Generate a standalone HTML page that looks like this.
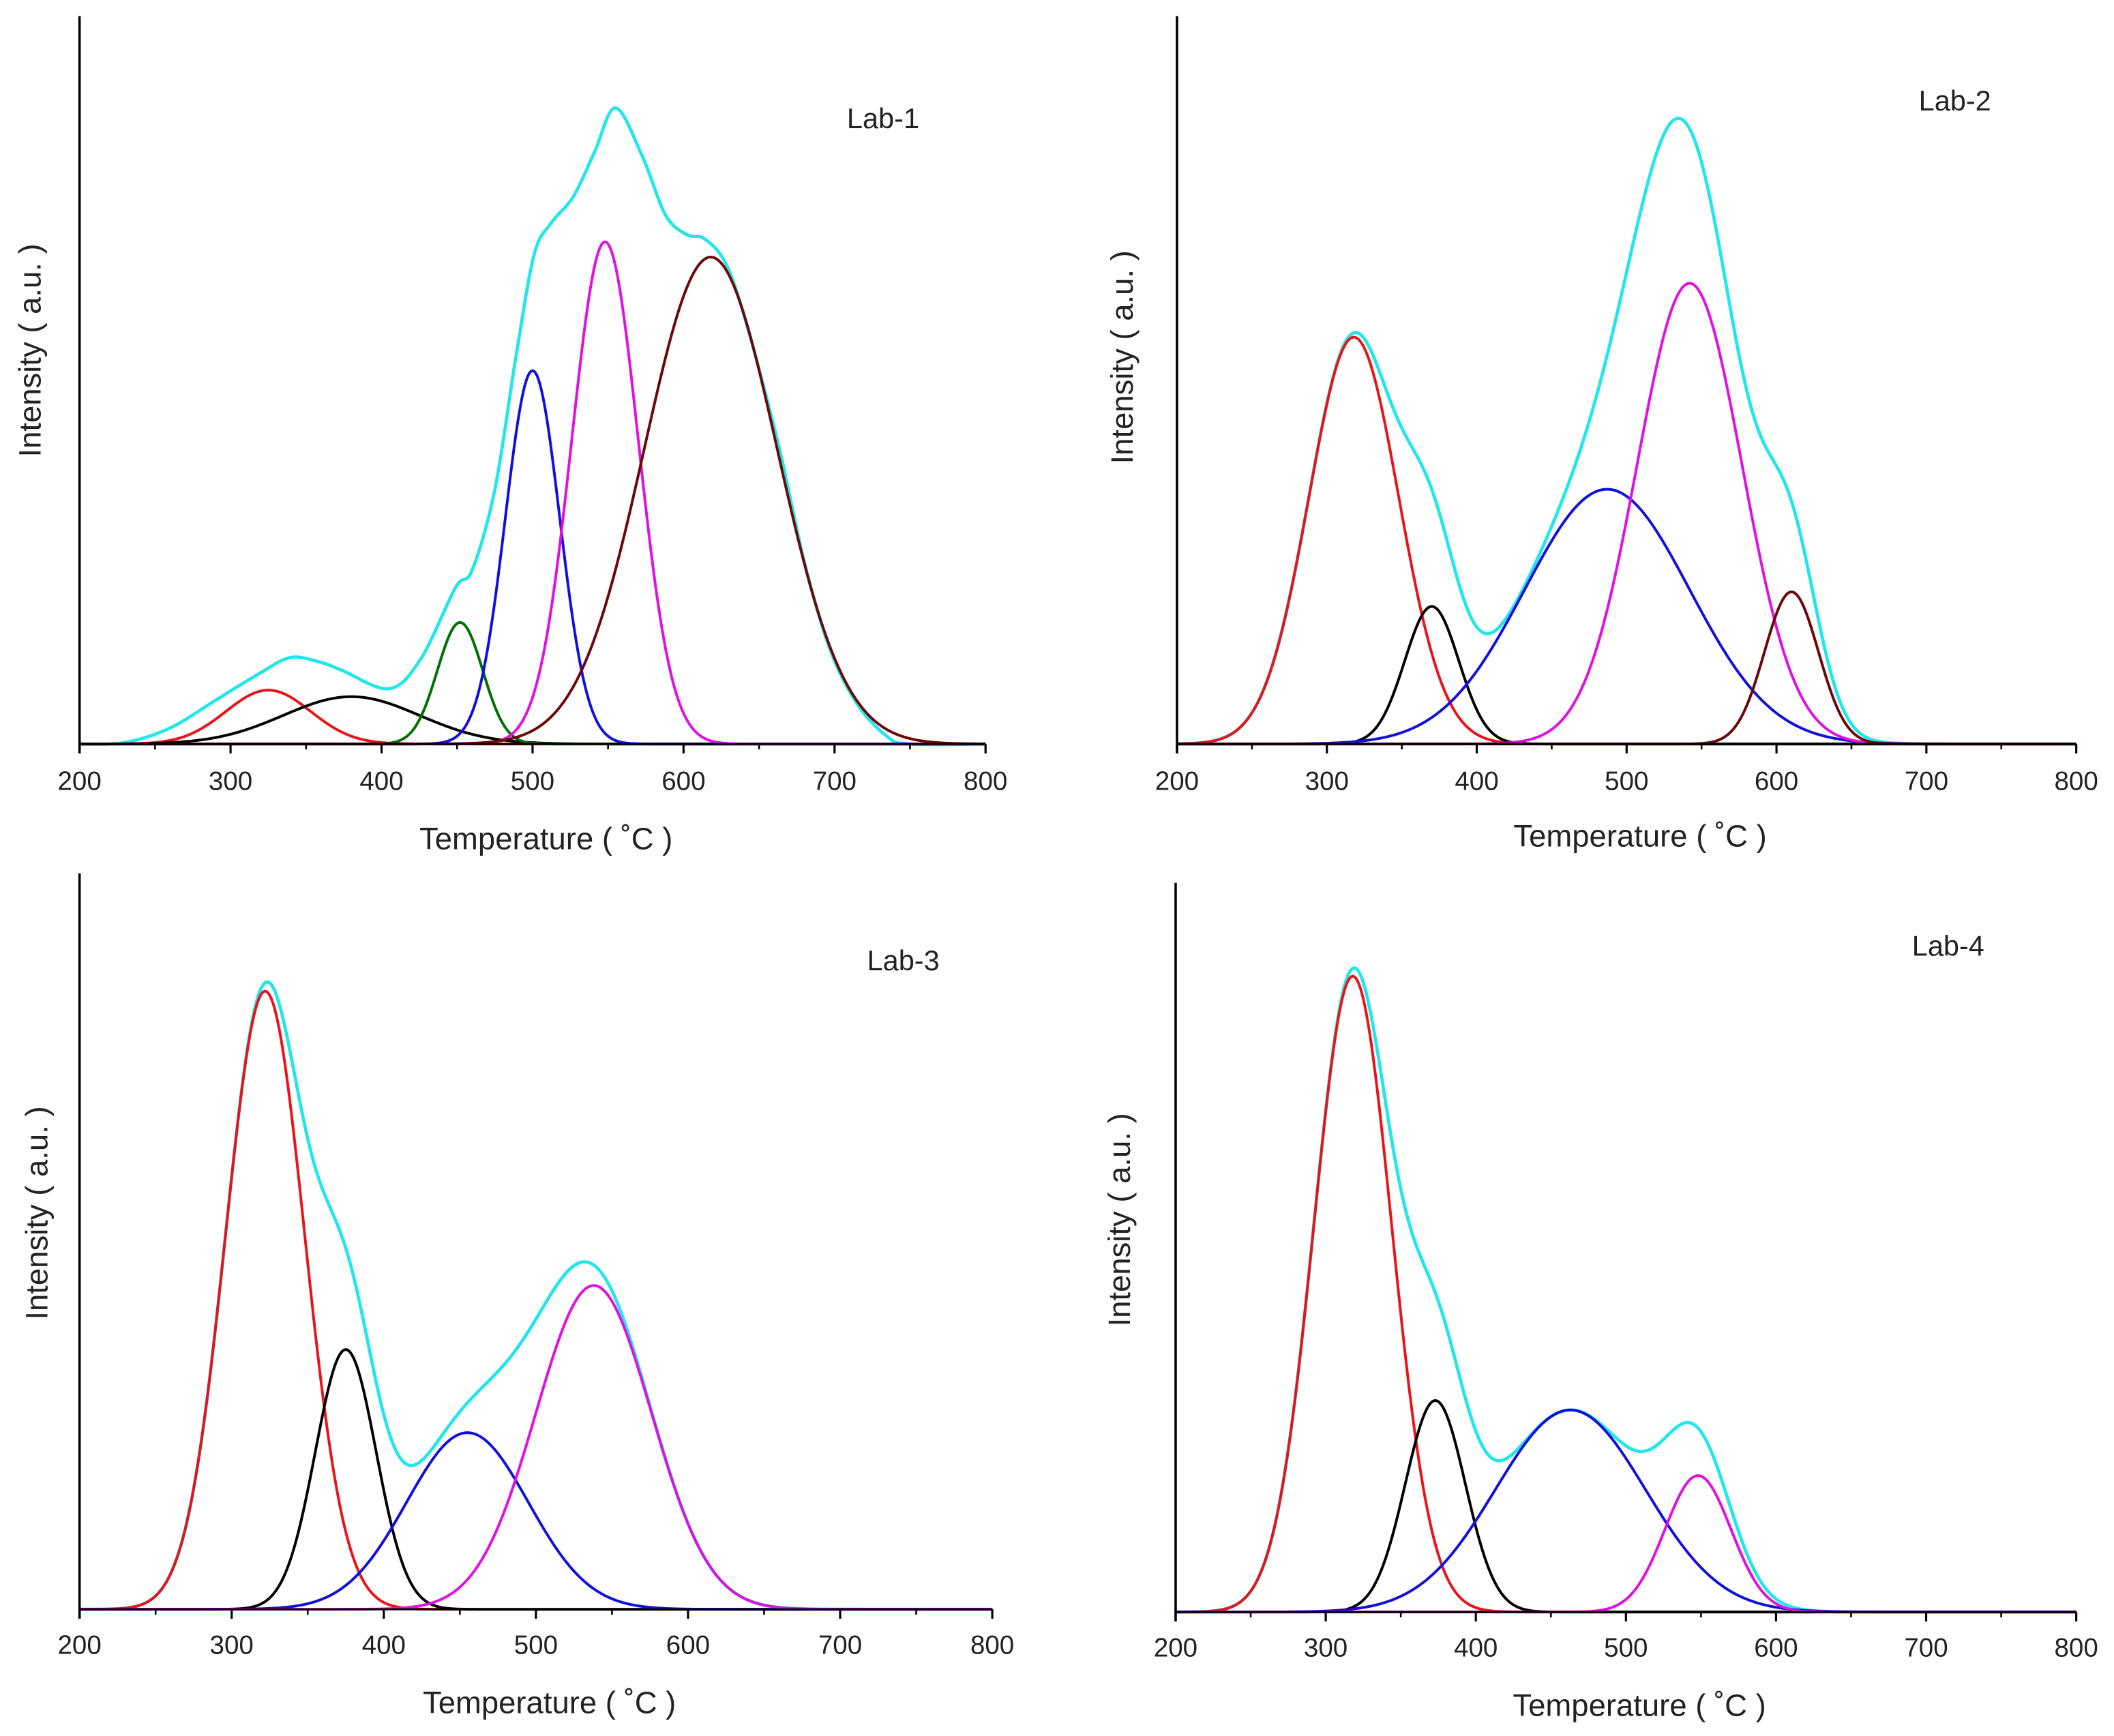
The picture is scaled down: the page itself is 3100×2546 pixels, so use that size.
<!DOCTYPE html>
<html><head><meta charset="utf-8"><style>
html,body{margin:0;padding:0;background:#fff}
svg{display:block}
text{font-family:"Liberation Sans",sans-serif;fill:#222}
</style></head><body>
<svg id="chart" width="3100" height="2546" viewBox="0 0 1568 1288" preserveAspectRatio="none" xmlns="http://www.w3.org/2000/svg"></svg>
<script>
// x ticks
const xTicks = [200, 300, 400, 500, 600, 700, 800];
const xMinor = [250, 350, 450, 550, 650, 750];
// component colours
const seriesColors = ["#e8141a", "#000000", "#007000", "#1010dd", "#e010e0", "#6b0808"];
// Lab-1 peaks: center, height (0-100 of axis), sigma
const lab1Centers = [325, 380, 452, 500, 548, 618];
const lab1Heights = [7.4, 6.5, 16.7, 51.3, 69, 66.9];
const lab1Sigmas = [28, 45, 15, 18, 22, 44];
const lab1Colors = [0, 1, 2, 3, 4, 5];
// Lab-1 measured envelope (temperature, intensity)
const lab1EnvT = [200, 230, 260, 290, 320, 340, 360, 374, 405, 426, 449, 460, 475, 489, 501, 512, 527, 541, 555, 573, 588, 602, 614, 628, 642, 663, 680, 697, 715, 735, 750, 800];
const lab1EnvI = [0, 0.2, 2.2, 6, 9.8, 11.9, 11.2, 10.1, 7.6, 11.7, 21.5, 23.9, 34.9, 53.2, 67.2, 71.5, 75.2, 81.3, 87.4, 80.6, 72.7, 70.0, 69.4, 66.0, 57.5, 41, 25, 13, 5.5, 1, 0, 0];
// Lab-2
const lab2Centers = [318, 370, 487, 542, 610];
const lab2Heights = [55.9, 18.9, 35, 63.3, 20.9];
const lab2Sigmas = [30, 18, 55, 35, 18];
const lab2Colors = [0, 1, 3, 4, 5];
// Lab-3
const lab3Centers = [322, 375, 455, 538];
const lab3Heights = [84, 35.3, 24, 44];
const lab3Sigmas = [26, 20, 40, 38];
const lab3Colors = [0, 1, 3, 4];
// Lab-4
const lab4Centers = [318, 373, 463, 548];
const lab4Heights = [87.2, 29, 27.7, 18.7];
const lab4Sigmas = [26, 20, 50, 22];
const lab4Colors = [0, 1, 3, 4];
const labNames = ["Lab-1", "Lab-2", "Lab-3", "Lab-4"];

const panels = [
 {x0:59, x1:731, top:12, base:552, lab:[655,95], tickY:586, titleY:630, yt:[24,260], c:lab1Centers,h:lab1Heights,s:lab1Sigmas,col:lab1Colors, envT:lab1EnvT, envI:lab1EnvI},
 {x0:873, x1:1540, top:12, base:552, lab:[1450,82], tickY:586, titleY:628, yt:[834,265], c:lab2Centers,h:lab2Heights,s:lab2Sigmas,col:lab2Colors},
 {x0:59, x1:736, top:648, base:1194, lab:[670,720], tickY:1227, titleY:1271, yt:[29,900], c:lab3Centers,h:lab3Heights,s:lab3Sigmas,col:lab3Colors},
 {x0:872, x1:1540, top:655, base:1196, lab:[1445,709], tickY:1229, titleY:1273, yt:[832,905], c:lab4Centers,h:lab4Heights,s:lab4Sigmas,col:lab4Colors}
];
const NS = "http://www.w3.org/2000/svg";
const svg = document.getElementById("chart");
function mk(tag, attrs, parent){const e=document.createElementNS(NS,tag);for(const k in attrs)e.setAttribute(k,attrs[k]);(parent||svg).appendChild(e);return e;}
function smoothPath(pts){
  let d = "M" + pts[0][0].toFixed(2) + "," + pts[0][1].toFixed(2);
  for (let i = 0; i < pts.length - 1; i++) {
    const p0 = pts[Math.max(0, i - 1)], p1 = pts[i], p2 = pts[i + 1], p3 = pts[Math.min(pts.length - 1, i + 2)];
    const c1 = [p1[0] + (p2[0] - p0[0]) / 6, p1[1] + (p2[1] - p0[1]) / 6];
    const c2 = [p2[0] - (p3[0] - p1[0]) / 6, p2[1] - (p3[1] - p1[1]) / 6];
    d += "C" + c1.map(v=>v.toFixed(2)).join(",") + " " + c2.map(v=>v.toFixed(2)).join(",") + " " + p2[0].toFixed(2) + "," + p2[1].toFixed(2);
  }
  return d;
}

panels.forEach((p, i) => {
  const g = mk("g", {});
  
  
  const sx = v => p.x0 + (v - 200) / 600 * (p.x1 - p.x0);
  const sy = v => p.base - v / 100 * (p.base - p.top);
  const gauss = (k, t) => p.h[k] * Math.exp(-((t - p.c[k]) ** 2) / (2 * p.s[k] ** 2));
  const paths = [];
  p.c.forEach((_, k) => {
    let d = "";
    for (let t = 200; t <= 800; t += 1) d += (t === 200 ? "M" : "L") + sx(t).toFixed(2) + "," + sy(gauss(k, t)).toFixed(2);
    paths.push({d, color: seriesColors[p.col[k]], k});
  });
  let ds = "";
  if (p.envT) {
    ds = smoothPath(p.envT.map((t, j) => [sx(t), sy(p.envI[j])]));
  } else {
    for (let t = 200; t <= 800; t += 1) { let v = 0; p.c.forEach((_, k) => v += gauss(k, t)); ds += (t === 200 ? "M" : "L") + sx(t).toFixed(2) + "," + sy(v).toFixed(2); }
  }
  const sum = mk("path", {d: ds, fill: "none", stroke: "#22e6ea", "stroke-width": 2.4}, g);
  
  
  paths.forEach(o => {
    const e = mk("path", {d: o.d, fill: "none", stroke: o.color, "stroke-width": 2}, g);
    
    
  });
  const ya = mk("line", {x1: p.x0, y1: p.top, x2: p.x0, y2: p.base + 7, stroke: "#000", "stroke-width": 1.8}, g);
  
  
  const xa = mk("line", {x1: p.x0, y1: p.base, x2: p.x1, y2: p.base, stroke: "#000", "stroke-width": 1.5}, g);
  
  
  xTicks.forEach(v => {
    const t = mk("line", {x1: sx(v), y1: p.base, x2: sx(v), y2: p.base + 7, stroke: "#000", "stroke-width": 1.6}, g);
    
    
    const l = mk("text", {x: sx(v), y: p.tickY, "text-anchor": "middle", "font-size": 19.5}, g);
    l.textContent = v;
    
    
  });
  xMinor.forEach(v => {
    const t = mk("line", {x1: sx(v), y1: p.base, x2: sx(v), y2: p.base + 4, stroke: "#000", "stroke-width": 1.3}, g);
    
    
  });
  const xt = mk("text", {x: (p.x0 + p.x1) / 2 + 10, y: p.titleY, "text-anchor": "middle", "font-size": 23}, g);
  xt.textContent = "Temperature ( \u02DAC )";
  
  
  const yt = mk("text", {x: p.yt[0], y: p.yt[1], "text-anchor": "middle", "font-size": 23, transform: `rotate(-90 ${p.yt[0]} ${p.yt[1]})`, "dominant-baseline": "middle"}, g);
  yt.textContent = "Intensity ( a.u. )";
  
  
  const lb = mk("text", {x: p.lab[0], y: p.lab[1], "text-anchor": "middle", "font-size": 21}, g);
  lb.textContent = labNames[i];
  
  
});
</script>
</body></html>
